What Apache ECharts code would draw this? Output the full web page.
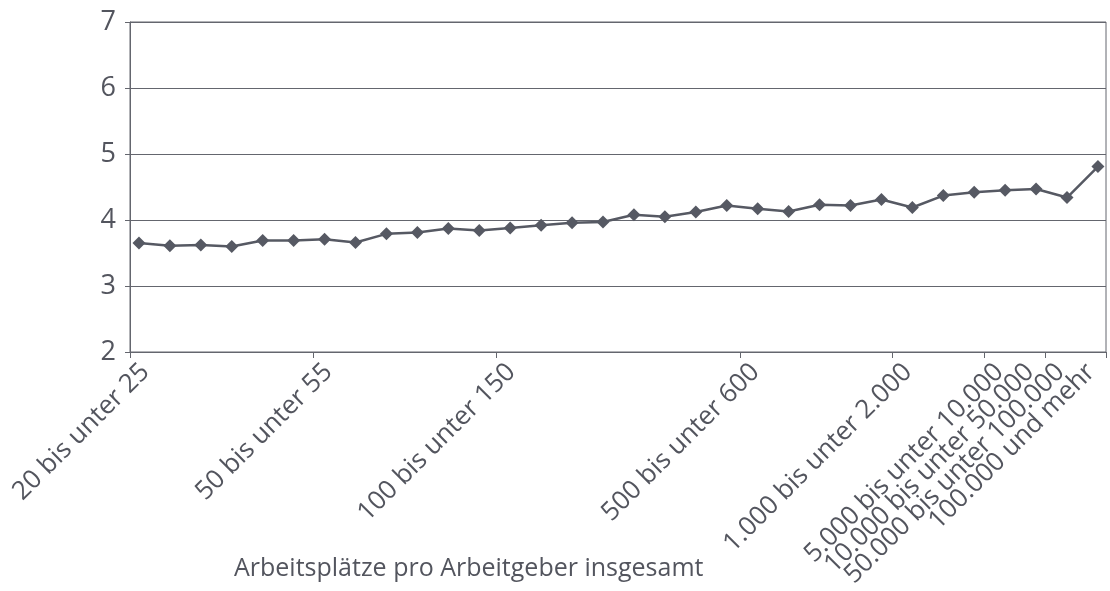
<!DOCTYPE html>
<html>
<head>
<meta charset="utf-8">
<script src="https://cdn.jsdelivr.net/npm/echarts@6/dist/echarts.min.js"></script>
<style>
	html, body { margin: 0; padding: 0; background: #fff; }
	#chart { width: 1110px; height: 591px; }
</style>
</head>
<body>
<div id="chart"></div>
<script>
const categories = [
	"20 bis unter 25", "25 bis unter 30", "30 bis unter 35", "35 bis unter 40",
	"40 bis unter 45", "45 bis unter 50", "50 bis unter 55", "55 bis unter 60",
	"60 bis unter 70", "70 bis unter 80", "80 bis unter 90", "90 bis unter 100",
	"100 bis unter 150", "150 bis unter 200", "200 bis unter 250", "250 bis unter 300",
	"300 bis unter 350", "350 bis unter 400", "400 bis unter 450", "450 bis unter 500",
	"500 bis unter 600", "600 bis unter 700", "700 bis unter 800", "800 bis unter 900",
	"900 bis unter 1.000", "1.000 bis unter 2.000", "2.000 bis unter 3.000", "3.000 bis unter 5.000",
	"5.000 bis unter 10.000", "10.000 bis unter 50.000", "50.000 bis unter 100.000", "100.000 und mehr"
];

const values = [
	3.65, 3.61, 3.62, 3.60, 3.69, 3.69, 3.71, 3.66,
	3.79, 3.81, 3.87, 3.84, 3.88, 3.92, 3.96, 3.97,
	4.08, 4.05, 4.12, 4.22, 4.17, 4.13, 4.23, 4.22,
	4.31, 4.19, 4.37, 4.42, 4.45, 4.47, 4.34, 4.81
];

// printed category labels; the crowded tail is split over two axes so
// echarts does not drop neighbours that touch each other
const labelsMain = [0, 6, 12, 20, 25, 28, 30];
const labelsExtra = [29, 31];

const axisTitle = "Arbeitsplätze pro Arbeitgeber insgesamt";

const textColor = "#53555e";
const lineColor = "#565963";
const axisColor = "#64666e";
const font = "'Open Sans', 'Noto Sans', sans-serif";

// the original plots its markers slightly wider than the category slots,
// so the line sits on a hidden value axis indexed by category position
const points = values.map((v, i) => [i, v]);

const labelStyle = {
	showMinLabel: true,
	showMaxLabel: true,
	hideOverlap: false,
	rotate: 45,
	margin: 16,
	color: textColor,
	fontFamily: font,
	fontSize: 26
};

const chart = echarts.init(document.getElementById("chart"));
chart.setOption({
	animation: false,
	grid: {
		left: 130,
		right: 4,
		top: 22,
		bottom: 239,
		outerBoundsMode: "none",
		show: true,
		borderColor: axisColor,
		borderWidth: 1
	},
	xAxis: [
		{
			type: "category",
			position: "bottom",
			data: categories,
			boundaryGap: true,
			axisLine: { lineStyle: { color: axisColor, width: 1 } },
			axisTick: { show: true, length: 6, lineStyle: { color: axisColor } },
			axisLabel: { ...labelStyle, interval: index => labelsMain.includes(index) },
			splitLine: { show: false }
		},
		{
			type: "value",
			show: false,
			min: -0.29,
			max: 31.26
		},
		{
			type: "category",
			position: "bottom",
			data: categories,
			boundaryGap: true,
			axisLine: { show: false },
			axisTick: { show: false },
			axisLabel: { ...labelStyle, interval: index => labelsExtra.includes(index) },
			splitLine: { show: false }
		}
	],
	yAxis: {
		type: "value",
		min: 2,
		max: 7,
		interval: 1,
		axisLine: { show: true, onZero: false, lineStyle: { color: axisColor, width: 1 } },
		axisTick: { show: true, length: 5, lineStyle: { color: axisColor } },
		axisLabel: {
			margin: 14,
			color: textColor,
			fontFamily: font,
			fontSize: 27
		},
		splitLine: { show: true, lineStyle: { color: axisColor, width: 1 } }
	},
	graphic: [
		{
			type: "text",
			left: 234,
			top: 556,
			style: {
				text: axisTitle,
				fill: textColor,
				font: "25px " + font
			}
		}
	],
	series: [
		{
			type: "line",
			xAxisIndex: 1,
			data: points,
			symbol: "diamond",
			symbolSize: 13,
			lineStyle: { color: lineColor, width: 2.5 },
			itemStyle: { color: lineColor }
		}
	]
});
</script>
</body>
</html>
